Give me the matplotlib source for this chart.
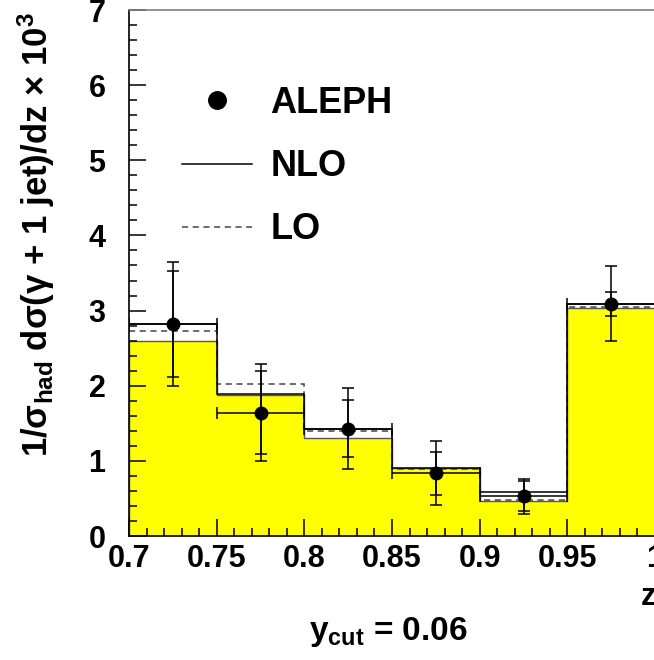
import matplotlib
matplotlib.use("Agg")
import matplotlib.pyplot as plt
from matplotlib.lines import Line2D
from matplotlib.ticker import MultipleLocator

# bins in z and measured / predicted values (x 10^3)
edges = [0.70, 0.75, 0.80, 0.85, 0.90, 0.95, 1.00]
edge_labels = ['0.7', '0.75', '0.8', '0.85', '0.9', '0.95', '1']
z_mid = [0.725, 0.775, 0.825, 0.875, 0.925, 0.975]
aleph = [2.82, 1.64, 1.43, 0.835, 0.53, 3.09]
aleph_stat = [0.70, 0.55, 0.385, 0.285, 0.20, 0.16]
aleph_tot = [0.83, 0.645, 0.54, 0.425, 0.235, 0.50]
nlo = [2.82, 1.89, 1.43, 0.91, 0.58, 3.09]
lo = [2.73, 2.02, 1.40, 0.89, 0.48, 3.05]
band = [2.59, 1.88, 1.30, 0.90, 0.47, 3.04]

plt.rcParams['font.family'] = ['Liberation Sans', 'DejaVu Sans']
plt.rcParams['font.weight'] = 'bold'
plt.rcParams['mathtext.fontset'] = 'custom'
plt.rcParams['mathtext.rm'] = 'Liberation Sans'
plt.rcParams['mathtext.it'] = 'Liberation Sans:italic'
plt.rcParams['mathtext.bf'] = 'Liberation Sans:bold'
plt.rcParams['mathtext.default'] = 'bf'

W, H = 654, 660
fig = plt.figure(figsize=(W / 100, H / 100), dpi=100)
ax = fig.add_axes([129 / W, 124 / H, 526 / W, 526 / H])

# histograms
ax.stairs(band, edges, fill=True, facecolor='#ffff00', edgecolor='#555555', lw=1.0, baseline=0)
ax.stairs(lo, edges, color='#444444', lw=1.1, ls=(0, (4, 3)), baseline=None)
ax.stairs(nlo, edges, color='black', lw=1.1, baseline=None)

# data: total errors with bin-width bars, then stat errors
xerr = [0.025] * len(z_mid)
ax.errorbar(z_mid, aleph, yerr=aleph_tot, xerr=xerr, fmt='o', color='black',
            ms=9, lw=1.1, capsize=4.3, capthick=1.1)
ax.errorbar(z_mid, aleph, yerr=aleph_stat, fmt='none', ecolor='black',
            lw=1.1, capsize=4.3, capthick=1.1)

ax.set_xlim(0.7, 1.0)
ax.set_ylim(0, 7)
ax.set_xticks(edges, edge_labels)
ax.xaxis.set_minor_locator(MultipleLocator(0.01))
ax.yaxis.set_major_locator(MultipleLocator(1))
ax.yaxis.set_minor_locator(MultipleLocator(0.2))
ax.tick_params(which='both', direction='in', top=False, right=False, width=1.1)
ax.tick_params(which='major', length=12.2)
ax.tick_params(which='minor', length=6.1)
ax.tick_params(axis='x', which='major', labelsize=22, pad=6)
ax.tick_params(axis='y', which='major', labelsize=22, pad=17)
for lab in ax.get_xticklabels() + ax.get_yticklabels():
    lab.set_fontweight('bold')

ax.spines['left'].set_linewidth(1.2)
ax.spines['bottom'].set_linewidth(1.2)
ax.spines['top'].set_color('#808080')
ax.spines['top'].set_linewidth(1.2)
ax.spines['right'].set_visible(False)

handles = [
    Line2D([], [], marker='o', ls='none', color='black', ms=9),
    Line2D([], [], color='black', lw=1.1),
    Line2D([], [], color='#444444', lw=1.1, ls=(0, (4, 3))),
]
ax.legend(handles, ['ALEPH', 'NLO', 'LO'], loc='upper left',
          bbox_to_anchor=((182 - 129) / 526, (536 - 86) / 526),
          frameon=False, borderpad=0, borderaxespad=0, handlelength=1.95,
          handletextpad=0.5, labelspacing=0.78, markerscale=1.4,
          prop={'size': 26, 'weight': 'bold'})

fig.text(36 / W, 1 - 12 / H,
         r'1/$\mathrm{\sigma}_{\mathbf{had}}$ d$\mathrm{\sigma}$($\mathrm{\gamma}$ + 1 jet)/dz $\mathrm{\times}$ 10$^{\mathbf{3}}$',
         rotation=90, ha='center', va='top', fontsize=25, fontweight='bold')
fig.text(656 / W, 1 - 605 / H, 'z', ha='right', va='baseline', fontsize=22, fontweight='bold')
fig.text(388 / W, 1 - 640 / H, r'y$_{\mathbf{cut}}$ = 0.06', ha='center', va='baseline',
         fontsize=24, fontweight='bold')

fig.savefig('out.png', dpi=100)
